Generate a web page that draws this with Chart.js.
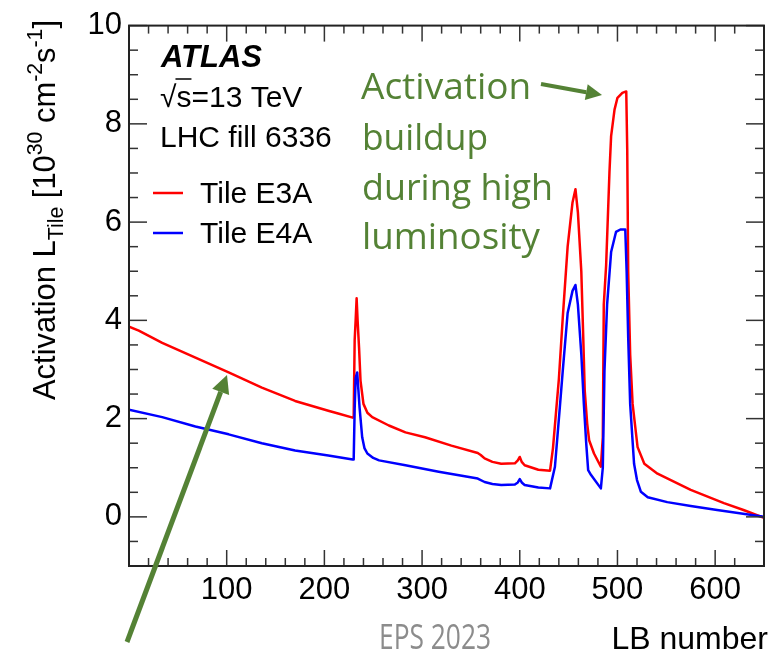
<!DOCTYPE html>
<html>
<head>
<meta charset="utf-8">
<script src="https://cdn.jsdelivr.net/npm/chart.js@4.4.0/dist/chart.umd.min.js"></script>
<style>
    html, body { margin: 0; padding: 0; background: #fff; }
    #wrap { width: 770px; height: 655px; position: relative; }
</style>
</head>
<body>
<div id="wrap"><canvas id="chart"></canvas></div>
<script>
// LB number / activation values
const e3aLB = [0, 10, 34, 68, 102, 136, 170, 204, 215, 229, 230, 231, 232, 233, 234, 235.5, 237, 240, 244, 249,
    266, 283, 303, 330, 357, 360, 364, 372, 381, 395, 398, 400, 402, 405, 419, 431, 434, 437, 440, 444,
    449, 454, 457, 459.5, 463, 465, 466.5, 469, 471, 476, 483, 485, 486, 488.4, 491.8, 493.5, 497, 500, 505, 509,
    510, 511, 513, 515.5, 520.6, 527.5, 541, 575, 609, 629, 650];
const e3aVal = [3.87, 3.79, 3.54, 3.24, 2.94, 2.63, 2.36, 2.16, 2.10, 2.02, 2.05, 3.6, 4.0, 4.45, 4.0, 3.44, 2.77, 2.30, 2.12, 2.03,
    1.86, 1.72, 1.62, 1.45, 1.30, 1.26, 1.19, 1.12, 1.08, 1.09, 1.15, 1.22, 1.12, 1.05, 0.96, 0.94, 1.4, 2.1, 2.8, 4.05,
    5.5, 6.4, 6.67, 6.2, 4.99, 3.64, 2.57, 1.9, 1.56, 1.29, 1.02, 1.62, 4.32, 5.12, 7.01, 7.75, 8.29, 8.53, 8.63, 8.66,
    7.48, 4.99, 3.31, 2.30, 1.42, 1.08, 0.88, 0.55, 0.28, 0.14, -0.02];

const e4aLB = [0, 34, 68, 102, 136, 170, 204, 229, 230, 231, 232, 233.6, 236, 238.7, 241, 244, 250, 256, 283, 317,
    357, 364, 372, 381, 395, 398, 400, 402, 405, 419, 431, 436, 441, 444, 449, 454, 457, 459.5, 463, 465.6,
    468, 470, 473, 483, 485, 486.7, 489.4, 493.5, 498.5, 503, 508, 509.4, 511, 513, 517, 520, 524, 531, 551, 575,
    602, 650];
const e4aVal = [2.18, 2.03, 1.84, 1.68, 1.50, 1.35, 1.25, 1.17, 1.17, 2.2, 2.83, 2.94, 2.23, 1.62, 1.4, 1.29, 1.2, 1.15, 1.05, 0.92,
    0.78, 0.71, 0.67, 0.65, 0.66, 0.70, 0.77, 0.70, 0.65, 0.60, 0.58, 1.02, 2.23, 2.97, 4.15, 4.6, 4.72, 4.32, 3.31, 2.30,
    1.5, 0.95, 0.85, 0.58, 1.0, 2.97, 4.32, 5.39, 5.80, 5.85, 5.85, 4.99, 3.64, 2.30, 1.08, 0.75, 0.51, 0.40, 0.30, 0.22,
    0.14, 0.0];

const seriesNames = ['Tile E3A', 'Tile E4A'];
const seriesColors = ['#ff0000', '#0000ff'];
const xMajorTicks = [100, 200, 300, 400, 500, 600];
const yMajorTicks = [0, 2, 4, 6, 8, 10];
const noteLines = ['Activation', 'buildup', 'during high', 'luminosity'];

const FONT = '"Liberation Sans", Arial, sans-serif';
const GREEN = '#548235';

const toPoints = (xs, ys) => xs.map((x, i) => ({ x: x, y: ys[i] }));

function line(ctx, x1, y1, x2, y2) {
    ctx.beginPath();
    ctx.moveTo(x1, y1);
    ctx.lineTo(x2, y2);
    ctx.stroke();
}

function arrow(ctx, x1, y1, x2, y2, head, half) {
    const ang = Math.atan2(y2 - y1, x2 - x1);
    const bx = x2 - head * Math.cos(ang), by = y2 - head * Math.sin(ang);
    line(ctx, x1, y1, bx, by);
    ctx.beginPath();
    ctx.moveTo(x2, y2);
    ctx.lineTo(bx + half * Math.sin(ang), by - half * Math.cos(ang));
    ctx.lineTo(bx - half * Math.sin(ang), by + half * Math.cos(ang));
    ctx.closePath();
    ctx.fill();
}

const rootFrame = {
    id: 'rootFrame',
    afterDatasetsDraw(chart) {
        const { ctx, chartArea: a, scales: { x, y } } = chart;
        ctx.save();
        ctx.strokeStyle = '#333';
        ctx.lineWidth = 1.5;
        // ticks on all four sides, pointing inwards
        x.ticks.forEach(t => {
            const v = t.value;
            if (v % 20 !== 0) return;
            const px = x.getPixelForValue(v);
            const len = xMajorTicks.includes(v) ? 16 : 8;
            line(ctx, px, a.bottom, px, a.bottom - len);
            line(ctx, px, a.top, px, a.top + len);
        });
        y.ticks.forEach(t => {
            const v = t.value;
            const py = y.getPixelForValue(v);
            const len = yMajorTicks.some(m => Math.abs(m - v) < 1e-6) ? 18 : 9;
            line(ctx, a.left, py, a.left + len, py);
            line(ctx, a.right, py, a.right - len, py);
        });
        ctx.lineWidth = 2;
        ctx.strokeStyle = '#222';
        ctx.strokeRect(a.left, a.top, a.right - a.left, a.bottom - a.top);
        ctx.restore();
    },
    afterDraw(chart) {
        const ctx = chart.ctx;
        ctx.save();
        ctx.fillStyle = '#000';
        ctx.textBaseline = 'alphabetic';

        // ATLAS label block
        ctx.font = 'italic bold 31px ' + FONT;
        ctx.fillText('ATLAS', 161, 67);
        ctx.font = '30px ' + FONT;
        ctx.fillText('\u221As=13 TeV', 160, 107);
        const wRoot = ctx.measureText('\u221A').width;
        const wS = ctx.measureText('s').width;
        ctx.strokeStyle = '#000';
        ctx.lineWidth = 1.5;
        line(ctx, 160 + wRoot - 1, 79, 160 + wRoot + wS, 79);
        ctx.fillText('LHC fill 6336', 160, 147);

        // legend
        ctx.lineWidth = 2.5;
        seriesNames.forEach((name, i) => {
            const ly = 193 + i * 40;
            ctx.strokeStyle = seriesColors[i];
            line(ctx, 153, ly, 183, ly);
            ctx.fillText(name, 200, ly + 10);
        });

        // y axis title with sub/superscripts
        const parts = [
            ['Activation L', 32, 0], ['Tile', 22, 8], [' [10', 32, 0], ['30', 22, -13],
            [' cm', 32, 0], ['-2', 22, -13], ['s', 32, 0], ['-1', 22, -13], [']', 32, 0]
        ];
        let total = 0;
        parts.forEach(p => { ctx.font = p[1] + 'px ' + FONT; total += ctx.measureText(p[0]).width; });
        ctx.save();
        ctx.translate(55, 400);
        ctx.rotate(-Math.PI / 2);
        ctx.scale(380 / total, 1);
        let cx = 0;
        parts.forEach(p => {
            ctx.font = p[1] + 'px ' + FONT;
            ctx.fillText(p[0], cx, p[2]);
            cx += ctx.measureText(p[0]).width;
        });
        ctx.restore();

        // x axis title and footer
        ctx.font = '32px ' + FONT;
        ctx.textAlign = 'right';
        ctx.fillText('LB number', 768, 649);
        ctx.textAlign = 'left';
        ctx.fillStyle = '#8c8c8c';
        ctx.font = '35px "Open Sans", sans-serif';
        ctx.fillText('EPS 2023', 379, 649, 112);

        // green annotation
        ctx.fillStyle = GREEN;
        ctx.strokeStyle = GREEN;
        const noteX = [361, 362, 362, 362];
        const noteY = [99, 150, 200, 249];
        const noteW = [172, 126, 191, 178];
        ctx.font = '37px "Open Sans", sans-serif';
        noteLines.forEach((t, i) => ctx.fillText(t, noteX[i], noteY[i], noteW[i]));
        ctx.lineWidth = 4;
        arrow(ctx, 541, 84, 602, 95, 16, 8);
        ctx.lineWidth = 5;
        arrow(ctx, 127, 642, 227, 375, 18, 9);
        ctx.restore();
    }
};

new Chart(document.getElementById('chart'), {
    type: 'line',
    data: {
        datasets: [
            {
                label: seriesNames[0],
                data: toPoints(e3aLB, e3aVal),
                borderColor: seriesColors[0],
                borderWidth: 2.5,
                pointRadius: 0,
                tension: 0,
                fill: false,
                borderJoinStyle: 'round',
                order: 1
            },
            {
                label: seriesNames[1],
                data: toPoints(e4aLB, e4aVal),
                borderColor: seriesColors[1],
                borderWidth: 2.5,
                pointRadius: 0,
                tension: 0,
                fill: false,
                borderJoinStyle: 'round',
                order: 0
            }
        ]
    },
    options: {
        responsive: true,
        maintainAspectRatio: false,
        animation: false,
        events: [],
        layout: { padding: { top: 22, right: 3, left: 0, bottom: 0 } },
        plugins: { legend: { display: false }, tooltip: { enabled: false } },
        scales: {
            x: {
                type: 'linear',
                min: 0,
                max: 650,
                grid: { display: false, drawTicks: false },
                border: { display: false },
                ticks: {
                    stepSize: 20,
                    autoSkip: false,
                    maxRotation: 0,
                    padding: 6,
                    color: '#000',
                    font: { family: FONT, size: 31 },
                    callback: v => xMajorTicks.includes(v) ? String(v) : ''
                },
                afterFit: s => { s.height = 89; }
            },
            y: {
                min: -1,
                max: 10,
                grid: { display: false, drawTicks: false },
                border: { display: false },
                ticks: {
                    stepSize: 0.5,
                    autoSkip: false,
                    padding: 7,
                    color: '#000',
                    font: { family: FONT, size: 31 },
                    callback: v => yMajorTicks.some(m => Math.abs(m - v) < 1e-6) ? String(Math.round(v)) : ''
                },
                afterFit: s => { s.width = 129; }
            }
        }
    },
    plugins: [rootFrame]
});
</script>
</body>
</html>
